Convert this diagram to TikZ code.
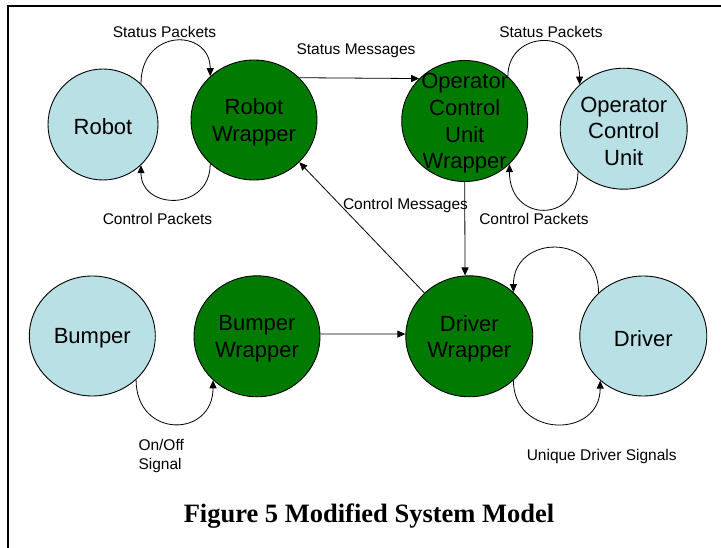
\documentclass[tikz,border=0pt]{standalone}
\usepackage{fontspec}
\setmainfont{Liberation Sans}
\newfontfamily\capfont{Liberation Serif}
\usetikzlibrary{shapes.geometric,arrows.meta}
\definecolor{wrapgreen}{RGB}{0,122,0}
\definecolor{devblue}{RGB}{185,224,228}
\tikzset{
  state/.style={ellipse, draw=black, line width=0.9pt, inner sep=0pt,
    minimum width=126pt, minimum height=120pt},
  stxt/.style={font=\fontsize{22}{26.7}\selectfont, align=center,
    inner sep=0pt, yshift=-2.5pt},
  txt/.style={label={[stxt]center:#1}},
  device/.style={state, fill=devblue},
  wrapper/.style={state, fill=wrapgreen},
  lbl/.style={inner sep=0pt, font=\fontsize{15.5}{19}\selectfont},
  arr/.style={line width=0.8pt, -{Triangle[length=8pt,width=7pt]}},
}
\begin{document}
\begin{tikzpicture}[x=1pt,y=-1pt]
\useasboundingbox (0,0) rectangle (721,548);
% frame
\draw[line width=1.8pt] (730,6) -- (8,6) -- (8,556);

% states
\node[device, minimum width=110pt, minimum height=111pt, txt={Robot}] (robot) at (103,124.5) {};
\node[wrapper, txt={Robot\\Wrapper}] (rw) at (254,120) {};
\node[wrapper, minimum height=121pt, txt={Operator\\Control\\Unit\\Wrapper}] (ocuw) at (464.7,121) {};
\node[device, minimum width=127pt, minimum height=121pt, txt={Operator\\Control\\Unit}] (ocu) at (623.7,128.7) {};
\node[device, txt={Bumper}] (bumper) at (92.3,336) {};
\node[wrapper, minimum height=121pt, txt={Bumper\\Wrapper}] (bw) at (257,336.3) {};
\node[wrapper, minimum width=127pt, minimum height=121pt, txt={Driver\\Wrapper}] (dw) at (469.3,336.3) {};
\node[device, minimum width=127pt, txt={Driver}] (driver) at (643.3,336) {};

% loops between devices and their wrappers
\draw[arr] (robot.47) .. controls +(0,-56) and +(0,-48) .. (rw.135);
\draw[arr] (rw.-135) .. controls +(0,48) and +(0,45) .. (robot.-47);
\draw[arr] (ocuw.46) .. controls +(0,-47) and +(0,-57) .. (ocu.135);
\draw[arr] (ocu.-137) .. controls +(0,52) and +(0,59) .. (ocuw.-44);
\draw[arr] (bumper.-45) .. controls +(0,59) and +(0,58) .. (bw.-135);
\draw[arr] (driver.136) .. controls +(0,-61) and +(0,-57.5) .. (dw.45);
\draw[arr] (dw.-45) .. controls +(0,58) and +(0,58) .. (driver.-134);

% message links between wrappers
\draw[arr] (rw.43) -- (ocuw.137);
\draw[arr] (dw.136) -- (rw.-43);
\draw[arr] (ocuw.south) -- (dw.94);
\draw[arr] (bw.2) -- (dw.178);

% labels
\node[lbl] (l1) at (164.5,32) {Status Packets};
\node[lbl] (l2) at (356,51) {Status Messages};
\node[lbl] (l3) at (551,32) {Status Packets};
\node[lbl] (l4) at (157.5,219) {Control Packets};
\node[lbl] (l5) at (405.5,205) {Control Messages};
\node[lbl] (l6) at (534,219) {Control Packets};
\node[lbl, anchor=west, align=left] (l7) at (138.3,456) {On/Off\\Signal};
\node[lbl] (l8) at (601.7,456.7) {Unique Driver Signals};

% caption
\node[inner sep=0pt, anchor=base, font=\capfont\bfseries\fontsize{26.5}{30}\selectfont] (cap) at (369,522) {Figure 5 Modified System Model};
\end{tikzpicture}
\end{document}
